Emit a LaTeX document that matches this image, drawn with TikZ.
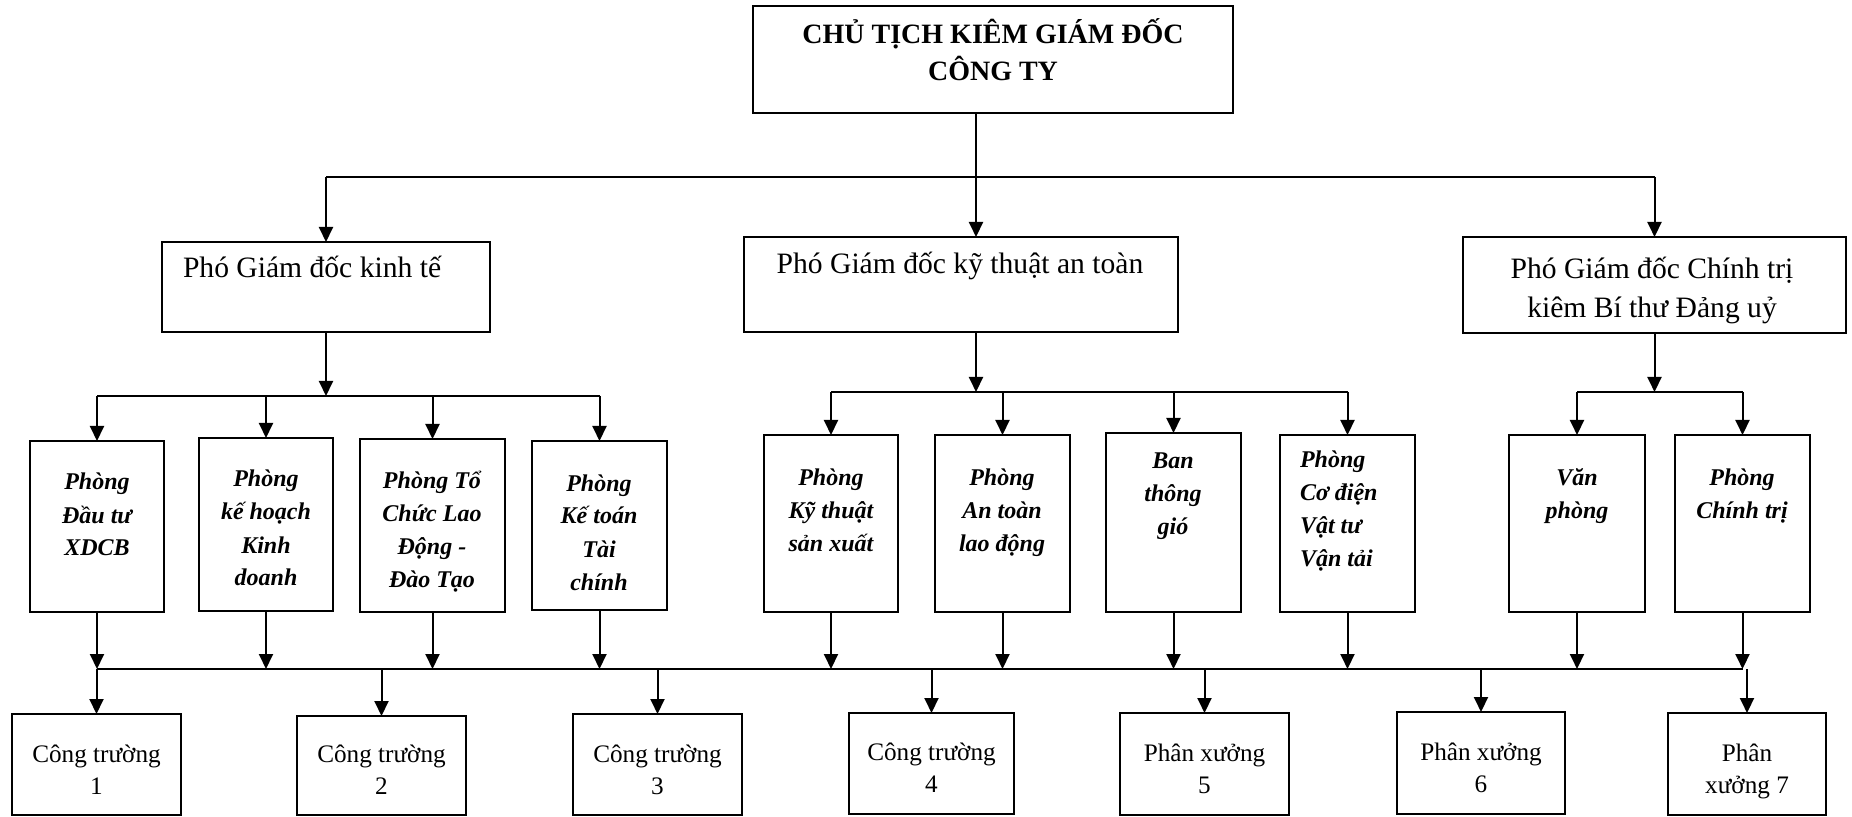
\documentclass[tikz,border=0pt]{standalone}
\usepackage{fontspec}
\setmainfont{Liberation Serif}
\usetikzlibrary{arrows.meta}

\begin{document}
\begin{tikzpicture}[x=0.5pt, y=-0.5pt, line width=1pt,
    >={Triangle[length=7.5pt, width=7pt]},
    box/.style={draw, inner sep=0pt, outer sep=0pt},
    size/.style 2 args={minimum width=#1, minimum height=#2},
    bus/.style={line width=1.2pt},
    toptext/.style={font=\fontsize{14}{18.65}\selectfont\bfseries, align=center, inner sep=0pt, anchor=base},
    vicetext/.style={font=\fontsize{14.8}{19.6}\selectfont, align=center, inner sep=0pt, anchor=base},
    depttext/.style={font=\fontsize{12}{16.5}\selectfont\bfseries\itshape, align=center, inner sep=0pt, anchor=base},
    unittext/.style={font=\fontsize{12.6}{15.8}\selectfont, align=center, inner sep=0pt, anchor=base}]
    \useasboundingbox (0,0) rectangle (1852,817);

    \node[box, size={240pt}{53.5pt}] (gd) at (993,59.5) {};
    \node[toptext] (gd-t) at (993,81) {CHỦ TỊCH KIÊM GIÁM ĐỐC\\CÔNG TY};

    \node[box, size={164pt}{45pt}] (pkte) at (326,287) {};
    \node[box, size={217pt}{47.5pt}] (pkt) at (961,284.5) {};
    \node[box, size={191.5pt}{48pt}] (pct) at (1654.5,285) {};
    \node[vicetext, anchor=base west] (pkte-t) at (182,278) {Phó Giám đốc kinh tế};
    \node[vicetext] (pkt-t) at (960,274) {Phó Giám đốc kỹ thuật an toàn};
    \node[vicetext] (pct-t) at (1652,318) {Phó Giám đốc Chính trị\\kiêm Bí thư Đảng uỷ};

    \node[box, size={67pt}{85.5pt}] (dt) at (97,526.5) {};
    \node[box, size={67pt}{86.5pt}] (kh) at (266,524.5) {};
    \node[box, size={72.5pt}{86.5pt}] (tc) at (432.5,525.5) {};
    \node[box, size={67.5pt}{84.5pt}] (ktoan) at (599.5,525.5) {};
    \node[box, size={67pt}{88.5pt}] (ktsx) at (831,523.5) {};
    \node[box, size={67.5pt}{88.5pt}] (at) at (1002.5,523.5) {};
    \node[box, size={67.5pt}{89.5pt}] (tg) at (1173.5,522.5) {};
    \node[box, size={67.5pt}{88.5pt}] (cd) at (1347.5,523.5) {};
    \node[box, size={68pt}{88.5pt}] (vp) at (1577,523.5) {};
    \node[box, size={67.5pt}{88.5pt}] (ctri) at (1742.5,523.5) {};

    \node[depttext] (dt-t) at (97,556) {Phòng\\Đầu tư\\XDCB};
    \node[depttext] (kh-t) at (266,586) {Phòng\\kế hoạch\\Kinh\\doanh};
    \node[depttext] (tc-t) at (432,588) {Phòng Tổ\\Chức Lao\\Động -\\Đào Tạo};
    \node[depttext] (ktoan-t) at (599,590) {Phòng\\Kế toán\\Tài\\chính};
    \node[depttext] (ktsx-t) at (831,552) {Phòng\\Kỹ thuật\\sản xuất};
    \node[depttext] (at-t) at (1002,552) {Phòng\\An toàn\\lao động};
    \node[depttext] (tg-t) at (1173,535) {Ban\\thông\\gió};
    \node[depttext, align=left, anchor=base west] (cd-t) at (1299,567) {Phòng\\Cơ điện\\Vật tư\\Vận tải};
    \node[depttext] (vp-t) at (1577,519) {Văn\\phòng};
    \node[depttext] (ctri-t) at (1742,519) {Phòng\\Chính trị};

    \node[box, size={84.5pt}{50.5pt}] (ct1) at (96.5,764.5) {};
    \node[box, size={84.5pt}{49.5pt}] (ct2) at (381.5,765.5) {};
    \node[box, size={84.5pt}{50.5pt}] (ct3) at (657.5,764.5) {};
    \node[box, size={82.5pt}{50.5pt}] (ct4) at (931.5,763.5) {};
    \node[box, size={84.5pt}{51pt}] (px5) at (1204.5,764) {};
    \node[box, size={84pt}{51pt}] (px6) at (1481,763) {};
    \node[box, size={79pt}{51pt}] (px7) at (1747,764) {};

    \node[unittext] (ct1-t) at (96.5,794) {Công trường\\1};
    \node[unittext] (ct2-t) at (381.5,794) {Công trường\\2};
    \node[unittext] (ct3-t) at (657.5,794) {Công trường\\3};
    \node[unittext] (ct4-t) at (931.5,792) {Công trường\\4};
    \node[unittext] (px5-t) at (1204.5,793) {Phân xưởng\\5};
    \node[unittext] (px6-t) at (1481,792) {Phân xưởng\\6};
    \node[unittext] (px7-t) at (1747,793) {Phân\\xưởng 7};

    \coordinate (j0) at (976,177);
    \coordinate (b1) at (0,396);
    \coordinate (b2) at (0,392);
    \coordinate (b3) at (0,669);

    \draw[->] (gd.south -| j0) -- (pkt.north -| j0);
    \draw[bus] (pkte.north |- j0) -- (pct.north |- j0);
    \draw[->] (pkte.north |- j0) -- (pkte.north);
    \draw[->] (pct.north |- j0) -- (pct.north);

    \draw[->] (pkte.south) -- (pkte.south |- b1);
    \draw[bus] (dt.north |- b1) -- (ktoan.north |- b1);
    \foreach \n in {dt, kh, tc, ktoan}
        \draw[->] (\n.north |- b1) -- (\n.north);

    \draw[->] (pkt.south -| j0) -- (j0 |- b2);
    \draw[bus] (ktsx.north |- b2) -- (cd.north |- b2);
    \foreach \n in {ktsx, at, tg, cd}
        \draw[->] (\n.north |- b2) -- (\n.north);

    \draw[->] (pct.south) -- (pct.south |- b2);
    \draw[bus] (vp.north |- b2) -- (ctri.north |- b2);
    \foreach \n in {vp, ctri}
        \draw[->] (\n.north |- b2) -- (\n.north);

    \foreach \n in {dt, kh, tc, ktoan, ktsx, at, tg, cd, vp, ctri}
        \draw[->] (\n.south) -- (\n.south |- b3);
    \draw[bus] (dt.south |- b3) -- (ctri.south |- b3);
    \foreach \n in {ct1, ct2, ct3, ct4, px5, px6, px7}
        \draw[->] (\n.north |- b3) -- (\n.north);
\end{tikzpicture}
\end{document}
